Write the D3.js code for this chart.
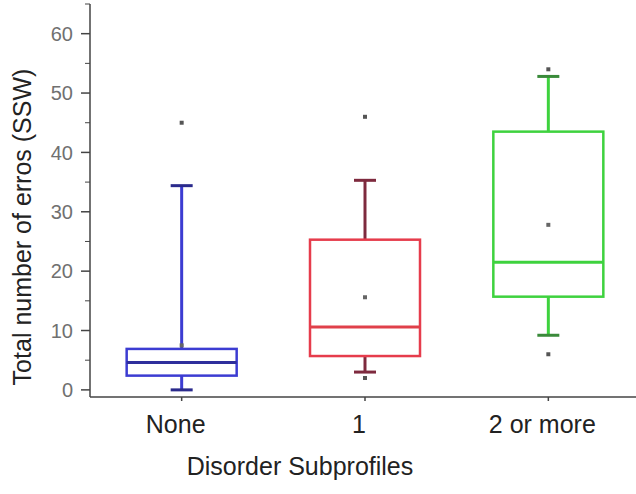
<!DOCTYPE html>
<html>
<head>
<meta charset="utf-8">
<script src="https://cdn.jsdelivr.net/npm/d3@7"></script>
<style>
  body { margin: 0; background: #fff; }
  svg { display: block; font-family: "Liberation Sans", Arial, sans-serif; }
</style>
</head>
<body>
<svg width="636" height="494"></svg>
<script>
const categories = ['None', '1', '2 or more']
const whiskerLow = [0, 3, 9.2]
const q1 = [2.4, 5.7, 15.7]
const median = [4.6, 10.6, 21.5]
const q3 = [6.9, 25.3, 43.5]
const whiskerHigh = [34.4, 35.3, 52.8]
const means = [7.5, 15.6, 27.8]
const outliers = [[45], [46, 2], [54, 6]]
const yTicks = [0, 10, 20, 30, 40, 50, 60]
const yMinorTicks = [5, 15, 25, 35, 45, 55, 65]

const colors = ['#3c3cd2', '#e63c4c', '#3ed23e']
const darkColors = ['#2a2a8c', '#7e2a3e', '#3a8a3a']
const medianColors = ['#2e2e9c', '#e0404a', '#3ed23e']

const svg = d3.select('svg')

const x = d3.scalePoint().domain(categories).range([90, 640]).padding(0.5)
const y = d3.scaleLinear().domain([-1.2, 65]).range([397, 4])

const boxW = 110
const capW = 22

const data = categories.map((c, i) => ({
  cat: c, i,
  lo: whiskerLow[i], q1: q1[i], med: median[i], q3: q3[i], hi: whiskerHigh[i],
  mean: means[i], out: outliers[i]
}))

// axes
const axisColor = '#444'
svg.append('line')
  .attr('x1', 90).attr('x2', 90).attr('y1', y(65)).attr('y2', 397)
  .attr('stroke', axisColor).attr('stroke-width', 1.5)
svg.append('line')
  .attr('x1', 90).attr('x2', 636).attr('y1', 397).attr('y2', 397)
  .attr('stroke', axisColor).attr('stroke-width', 1.5)

const gy = svg.append('g')
gy.selectAll('.major').data(yTicks).enter().append('line')
  .attr('x1', 81).attr('x2', 90)
  .attr('y1', d => y(d)).attr('y2', d => y(d))
  .attr('stroke', axisColor).attr('stroke-width', 1.5)
gy.selectAll('.minor').data(yMinorTicks).enter().append('line')
  .attr('x1', 85).attr('x2', 90)
  .attr('y1', d => y(d)).attr('y2', d => y(d))
  .attr('stroke', axisColor).attr('stroke-width', 1)
gy.selectAll('text').data(yTicks).enter().append('text')
  .attr('x', 73).attr('y', d => y(d))
  .attr('dy', '0.36em')
  .attr('text-anchor', 'end')
  .attr('font-size', 20)
  .attr('fill', '#707070')
  .text(d => d)

const gx = svg.append('g')
gx.selectAll('line').data(categories).enter().append('line')
  .attr('x1', d => x(d)).attr('x2', d => x(d))
  .attr('y1', 397).attr('y2', 401)
  .attr('stroke', axisColor).attr('stroke-width', 1.5)
gx.selectAll('text').data(categories).enter().append('text')
  .attr('x', d => x(d) - 6).attr('y', 433)
  .attr('text-anchor', 'middle')
  .attr('font-size', 25)
  .attr('fill', '#222')
  .text(d => d)

svg.append('text')
  .attr('x', 300).attr('y', 475)
  .attr('text-anchor', 'middle')
  .attr('font-size', 25)
  .attr('fill', '#222')
  .text('Disorder Subprofiles')

svg.append('text')
  .attr('transform', 'translate(31,227) rotate(-90)')
  .attr('text-anchor', 'middle')
  .attr('font-size', 25)
  .attr('fill', '#222')
  .text('Total number of erros (SSW)')

// boxes
const boxes = svg.append('g').selectAll('g').data(data).enter().append('g')

boxes.append('line')
  .attr('x1', d => x(d.cat)).attr('x2', d => x(d.cat))
  .attr('y1', d => y(d.hi)).attr('y2', d => y(d.q3))
  .attr('stroke', d => d.i === 1 ? darkColors[d.i] : colors[d.i]).attr('stroke-width', 3)
boxes.append('line')
  .attr('x1', d => x(d.cat)).attr('x2', d => x(d.cat))
  .attr('y1', d => y(d.q1)).attr('y2', d => y(d.lo))
  .attr('stroke', d => d.i === 1 ? darkColors[d.i] : colors[d.i]).attr('stroke-width', 3)

boxes.selectAll('.cap').data(d => [d.lo, d.hi].map(v => ({ v, d }))).enter().append('line')
  .attr('x1', e => x(e.d.cat) - capW / 2).attr('x2', e => x(e.d.cat) + capW / 2)
  .attr('y1', e => y(e.v)).attr('y2', e => y(e.v))
  .attr('stroke', e => darkColors[e.d.i]).attr('stroke-width', 3)

boxes.append('rect')
  .attr('x', d => x(d.cat) - boxW / 2)
  .attr('width', boxW)
  .attr('y', d => y(d.q3))
  .attr('height', d => y(d.q1) - y(d.q3))
  .attr('fill', '#fff')
  .attr('stroke', d => colors[d.i]).attr('stroke-width', 2.5)

boxes.append('line')
  .attr('x1', d => x(d.cat) - boxW / 2).attr('x2', d => x(d.cat) + boxW / 2)
  .attr('y1', d => y(d.med)).attr('y2', d => y(d.med))
  .attr('stroke', d => medianColors[d.i]).attr('stroke-width', 3)

boxes.append('rect')
  .attr('x', d => x(d.cat) - 2).attr('y', d => y(d.mean) - 2)
  .attr('width', 4).attr('height', 4)
  .attr('fill', '#666')

boxes.selectAll('.out').data(d => d.out.map(v => ({ v, d }))).enter().append('rect')
  .attr('x', e => x(e.d.cat) - 2).attr('y', e => y(e.v) - 2)
  .attr('width', 4).attr('height', 4)
  .attr('fill', '#555')
</script>
</body>
</html>
